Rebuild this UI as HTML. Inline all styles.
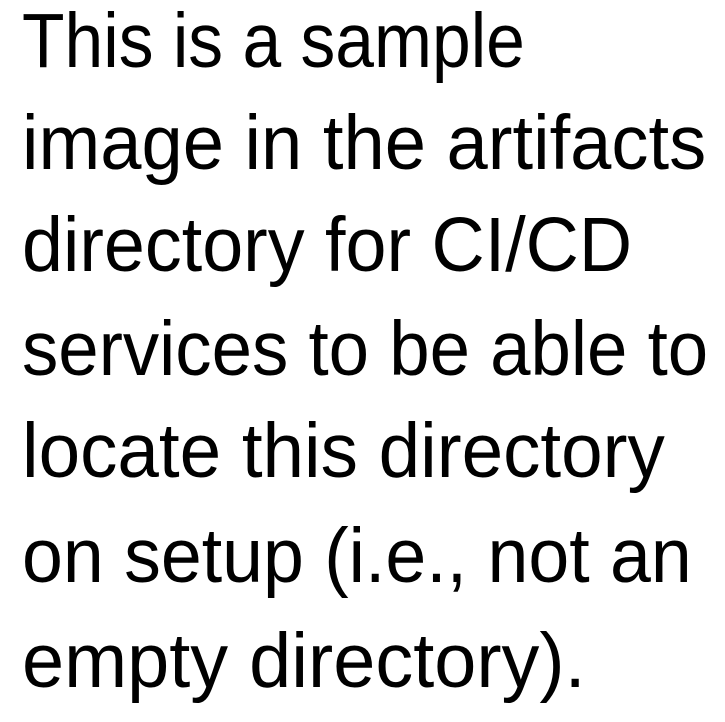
<!DOCTYPE html>
<html><head><meta charset="utf-8"><style>
html,body{margin:0;padding:0;background:#fff;}
body{width:725px;height:722px;position:relative;overflow:hidden;}
.l{position:absolute;left:22px;font-family:"Liberation Sans",sans-serif;font-size:77px;line-height:77px;color:#000;white-space:nowrap;transform-origin:0 0;}
</style></head><body>
<div class="l" style="top:3px;transform:scaleX(0.904)">This is a sample</div>
<div class="l" style="top:105px;transform:scaleX(0.963)">image in the artifacts</div>
<div class="l" style="top:207px;transform:scaleX(0.957)">directory for CI/CD</div>
<div class="l" style="top:311px;transform:scaleX(0.943)">services to be able to</div>
<div class="l" style="top:413px;transform:scaleX(0.969)">locate this directory</div>
<div class="l" style="top:518px;transform:scaleX(0.954)">on setup (i.e., not an</div>
<div class="l" style="top:623px;transform:scaleX(0.983)">empty directory).</div>
</body></html>
